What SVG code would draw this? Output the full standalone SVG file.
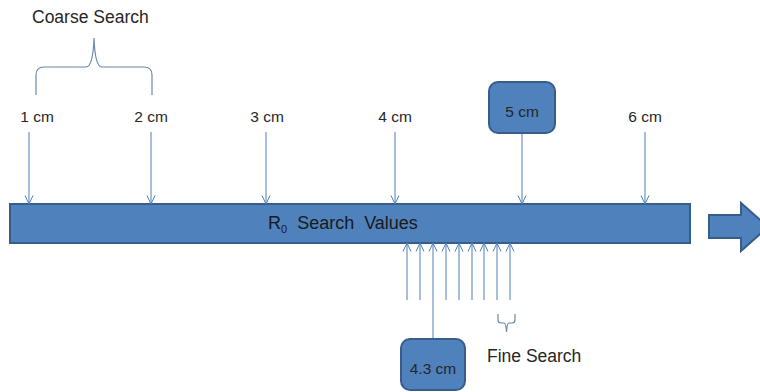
<svg xmlns="http://www.w3.org/2000/svg" width="760" height="392" viewBox="0 0 760 392">
  <defs>
    <marker id="vhead" viewBox="0 0 10 10" refX="9.5" refY="5" markerWidth="10" markerHeight="10" markerUnits="userSpaceOnUse" orient="auto">
      <path d="M1,1 L9.5,5 L1,9" fill="none" stroke="#4A7EBB" stroke-width="1"/>
    </marker>
  </defs>
  <style>
    .txt { font-family: "Liberation Sans", Arial, sans-serif; font-size: 17.5px; fill: #262626; }
    .lbl { font-family: "Liberation Sans", Arial, sans-serif; font-size: 15.5px; fill: #262626; text-anchor: middle; }
    .box { fill: #4F81BD; stroke: #385D8A; stroke-width: 2; }
    .conn { stroke: #4A7EBB; stroke-width: 1; fill: none; }
    .arr { stroke: #4A7EBB; stroke-width: 1; fill: none; marker-end: url(#vhead); }
    .brace { stroke: #6A88A8; stroke-width: 1.2; fill: none; }
  </style>
  <rect width="760" height="392" fill="#ffffff"/>

  <!-- main bar -->
  <g id="bar">
    <rect class="box" x="10" y="204" width="680" height="39"/>
    <text x="268" y="229" style="font-family:'Liberation Sans', Arial, sans-serif; font-size:18px; fill:#1a1a1a; white-space:pre">R<tspan font-size="11" dy="4">0</tspan><tspan dy="-4">  Search  Values</tspan></text>
  </g>

  <!-- block arrow on the right -->
  <g id="next-arrow">
    <path class="box" d="M709,215 L741,215 L741,203 L768,227 L741,251 L741,238 L709,238 Z"/>
  </g>

  <!-- coarse search brace and caption -->
  <g id="coarse">
    <text class="txt" x="32" y="23">Coarse Search</text>
    <path class="brace" d="M36,95 L36,75 Q36,67 44,67 L86,67 Q93,67 94,38 Q95,67 102,67 L144,67 Q152,67 152,75 L152,95"/>
  </g>

  <!-- value labels along the top -->
  <g id="v1"><text class="lbl" x="37" y="122">1 cm</text></g>
  <g id="v2"><text class="lbl" x="151" y="122">2 cm</text></g>
  <g id="v3"><text class="lbl" x="267" y="122">3 cm</text></g>
  <g id="v4"><text class="lbl" x="395" y="122">4 cm</text></g>
  <g id="v5">
    <rect class="box" x="489" y="82" width="66" height="51" rx="9"/>
    <text class="lbl" x="522" y="117">5 cm</text>
  </g>
  <g id="v6"><text class="lbl" x="645" y="122">6 cm</text></g>

  <!-- result box below -->
  <g id="v43">
    <rect class="box" x="401" y="339" width="64" height="51" rx="9"/>
    <text class="lbl" x="433" y="374">4.3 cm</text>
  </g>

  <!-- fine search brace and caption -->
  <g id="fine">
    <path class="brace" d="M498,314 L498,320 Q498,323 501,323 L504,323 Q506,323 506.5,332 Q507,323 509,323 L512,323 Q515,323 515,320 L515,314"/>
    <text class="txt" x="487" y="362">Fine Search</text>
  </g>

  <!-- connectors -->
  <g id="connectors">
    <line class="arr" x1="29" y1="132" x2="29" y2="204"/>
    <line class="arr" x1="151" y1="132" x2="151" y2="204"/>
    <line class="arr" x1="266" y1="132" x2="266" y2="204"/>
    <line class="arr" x1="395" y1="132" x2="395" y2="204"/>
    <line class="arr" x1="522" y1="134" x2="522" y2="204"/>
    <line class="arr" x1="645" y1="132" x2="645" y2="204"/>

    <line class="arr" x1="407" y1="300" x2="407" y2="243"/>
    <line class="arr" x1="420" y1="300" x2="420" y2="243"/>
    <line class="arr" x1="433" y1="338" x2="433" y2="243"/>
    <line class="arr" x1="446" y1="300" x2="446" y2="243"/>
    <line class="arr" x1="459" y1="300" x2="459" y2="243"/>
    <line class="arr" x1="472" y1="300" x2="472" y2="243"/>
    <line class="arr" x1="484" y1="300" x2="484" y2="243"/>
    <line class="arr" x1="497" y1="300" x2="497" y2="243"/>
    <line class="arr" x1="510" y1="300" x2="510" y2="243"/>
  </g>
</svg>
